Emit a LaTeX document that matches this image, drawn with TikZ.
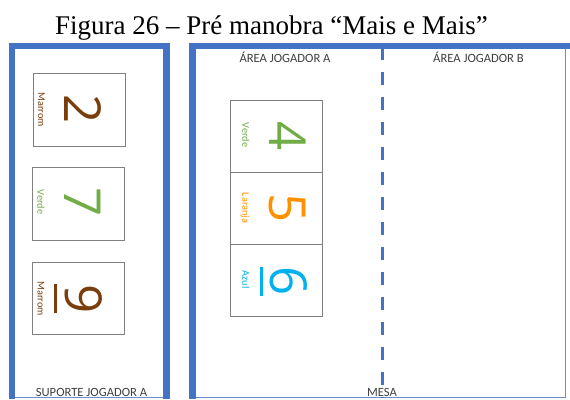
\documentclass[tikz,border=0pt]{standalone}
\usepackage{fontspec}
\setmainfont{Liberation Serif}
\newfontfamily\calfont{Carlito}
\newfontfamily\digfont{Open Sans}
\definecolor{frameblue}{RGB}{68,114,196}
\definecolor{thinblue}{RGB}{110,140,200}
\definecolor{cardgray}{RGB}{128,128,128}
\definecolor{areagray}{RGB}{64,64,64}
\definecolor{cbrown}{RGB}{122,62,12}
\definecolor{cgreen}{RGB}{112,173,71}
\definecolor{corange}{RGB}{255,145,0}
\definecolor{cblue}{RGB}{0,176,240}
\tikzset{
  card/.style={draw=cardgray, line width=1pt, minimum width=92pt, minimum height=72pt, inner sep=0pt, fill=white},
  digit/.style={font=\digfont\fontsize{51}{51}\selectfont, rotate=-90, inner sep=0pt, text depth=0pt},
  lbl/.style={font=\calfont\fontsize{10.3}{12}\selectfont, rotate=-90, inner sep=0pt, text depth=0pt},
  area/.style={font=\calfont\fontsize{12.6}{14}\selectfont, text=areagray, anchor=base, inner sep=0pt},
  thickframe/.style={draw=frameblue, line width=6.5pt, line join=miter},
  thinframe/.style={draw=thinblue, line width=1pt},
  uline/.style={line width=3pt}
}
\begin{document}
\begin{tikzpicture}[x=1pt,y=-1pt]
\useasboundingbox (0,0) rectangle (570,399);
\fill[white] (0,0) rectangle (570,399);

% title
\node[anchor=base, inner sep=0pt, font=\fontsize{27}{30}\selectfont] (title) at (271.5,34) {Figura 26 – Pré manobra “Mais e Mais”};

% left panel frame
\draw[thickframe] (12,399) -- (12,46) -- (166.5,46) -- (166.5,399);
\draw[thinframe] (15,397.7) -- (163.2,397.7);

% right panel frame
\draw[thickframe] (192.5,399) -- (192.5,46) -- (570,46);
\draw[thinframe] (195.8,397.7) -- (565.7,397.7) -- (565.7,49);

% dashed divider
\coordinate (dtop) at (382.3,49);
\coordinate (dbot) at (382.3,397);
\draw[frameblue, line width=3.5pt, dash pattern=on 13pt off 12pt, dash phase=2.3pt] (dtop) -- (dbot);

% area labels
\node[area] (areaA) at (285,62.3) {ÁREA JOGADOR A};
\node[area] (areaB) at (478.5,62.3) {ÁREA JOGADOR B};
\node[area] (suporte) at (91.5,396.5) {SUPORTE JOGADOR A};
\node[area] (mesa) at (382,396) {MESA};

% left cards
\node[card, minimum width=92pt, minimum height=73pt] (c1) at (79,109.5) {};
\node[card, minimum width=92pt, minimum height=73pt] (c2) at (78,203.5) {};
\node[card, minimum width=92pt, minimum height=72pt] (c3) at (78,298) {};
\node[lbl, text=cbrown] (l1) at (41.5,109.5) {Marrom};
\node[digit, text=cbrown] (d1) at (82.5,109.5) {2};
\node[lbl, text=cgreen] (l2) at (41,202) {Verde};
\node[digit, text=cgreen] (d2) at (82.5,202) {7};
\node[lbl, text=cbrown] (l3) at (41,298.5) {Marrom};
\node[digit, text=cbrown] (d3) at (83.5,299) {9};
\draw[uline, cbrown] (55,284) -- (55,313);

% right cards
\node[card] (c4) at (276.7,136) {};
\node[card] (c5) at (276.7,208) {};
\node[card] (c6) at (276.7,280) {};
\node[lbl, text=cgreen] (l4) at (246,135) {Verde};
\node[digit, text=cgreen] (d4) at (287.5,136) {4};
\node[lbl, text=corange] (l5) at (246,208) {Laranja};
\node[digit, text=corange] (d5) at (287.5,208) {5};
\node[lbl, text=cblue] (l6) at (246,279.5) {Azul};
\node[digit, text=cblue] (d6) at (288.5,281) {6};
\draw[uline, cblue] (261,267) -- (261,296);
\end{tikzpicture}
\end{document}
